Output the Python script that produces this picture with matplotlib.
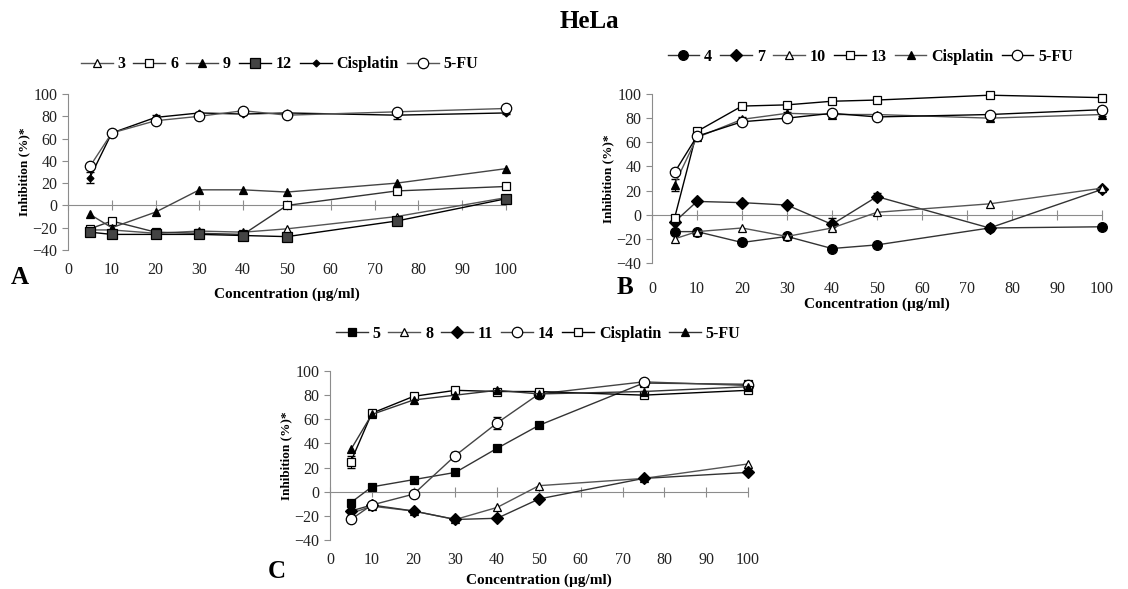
import matplotlib
matplotlib.use("Agg")
import matplotlib.pyplot as plt
import numpy as np

plt.rcParams['font.family'] = ['Liberation Serif', 'DejaVu Serif']

conc = [5, 10, 20, 30, 40, 50, 75, 100]
xticks = [0, 10, 20, 30, 40, 50, 60, 70, 80, 90, 100]
yticks = [-40, -20, 0, 20, 40, 60, 80, 100]

# Panel A
a_labels = ["3", "6", "9", "12", "Cisplatin", "5-FU"]
a_3 = [-22, -22, -25, -23, -24, -21, -10, 7]
a_6 = [-21, -14, -24, -25, -26, 0, 13, 17]
a_9 = [-8, -20, -6, 14, 14, 12, 20, 33]
a_12 = [-24, -26, -26, -26, -27, -28, -14, 6]
a_cis = [25, 65, 79, 83, 82, 83, 81, 83]
a_5fu = [35, 65, 76, 80, 85, 81, 84, 87]
a_cis_err = [5, 1, 2, 1, 1, 1, 3, 1]
a_12_err = [1, 1, 1, 1, 3, 1, 1, 1]

# Panel B
b_labels = ["4", "7", "10", "13", "Cisplatin", "5-FU"]
b_4 = [-14, -14, -23, -18, -28, -25, -11, -10]
b_7 = [-6, 11, 10, 8, -8, 15, -11, 21]
b_10 = [-20, -14, -11, -18, -11, 2, 9, 22]
b_13 = [-3, 69, 90, 91, 94, 95, 99, 97]
b_cis = [25, 64, 79, 84, 83, 83, 80, 83]
b_5fu = [35, 65, 77, 80, 84, 81, 83, 87]
b_cis_err = [5, 1, 2, 1, 1, 1, 1, 1]
b_7_err = [1, 1, 1, 1, 5, 3, 1, 1]

# Panel C
c_labels = ["5", "8", "11", "14", "Cisplatin", "5-FU"]
c_5 = [-9, 4, 10, 16, 36, 55, 90, 89]
c_8 = [-18, -12, -16, -23, -13, 5, 11, 23]
c_11 = [-16, -11, -16, -23, -22, -6, 11, 16]
c_14 = [-23, -11, -2, 30, 57, 81, 91, 88]
c_cis = [25, 65, 79, 84, 83, 83, 80, 84]
c_5fu = [35, 64, 76, 80, 84, 81, 83, 87]
c_cis_err = [5, 1, 1, 1, 1, 1, 1, 1]
c_14_err = [1, 1, 1, 3, 5, 1, 1, 1]

W, H = 1128, 589
fig = plt.figure(figsize=(W / 100, H / 100), dpi=100)

STY = {
    "otri": dict(marker="^", mfc="white", mec="black", ms=6),
    "osq": dict(marker="s", mfc="white", mec="black", ms=6),
    "ftri": dict(marker="^", mfc="black", mec="black", ms=6),
    "xsq": dict(marker="s", mfc="#444444", mec="black", ms=6.5),
    "sdia": dict(marker="D", mfc="black", mec="black", ms=3.5),
    "fdia": dict(marker="D", mfc="black", mec="black", ms=6),
    "ocirc": dict(marker="o", mfc="white", mec="black", ms=7.5),
    "fcirc": dict(marker="o", mfc="black", mec="black", ms=7),
    "fsq": dict(marker="s", mfc="black", mec="black", ms=5.5),
}


def panel(rect, series, letter, letter_xy, leg_anchor, pad, xlab_y):
    ax = fig.add_axes(rect)
    for vals, lab, sty, col, err in series:
        kw = dict(STY[sty])
        ax.plot(conc, vals, color=col, lw=1.0, label=lab, clip_on=False,
                mew=0.9, zorder=3, **kw)
        if err is not None:
            ax.errorbar(conc, vals, yerr=err, fmt="none", ecolor="black",
                        elinewidth=0.8, capsize=3, zorder=2, clip_on=False)
    ax.set_xlim(0, 100)
    ax.set_ylim(-40, 100)
    ax.set_xticks(xticks)
    ax.set_yticks(yticks)
    for s in ["top", "right"]:
        ax.spines[s].set_visible(False)
    ax.spines["left"].set_color("#8c8c8c")
    ax.spines["bottom"].set_position(("data", 0))
    ax.spines["bottom"].set_color("#8c8c8c")
    ax.tick_params(axis="x", direction="inout", length=7, color="#8c8c8c",
                   pad=pad, labelsize=11.5, labelcolor="#222222")
    ax.tick_params(axis="y", direction="out", length=4, color="#8c8c8c",
                   labelsize=11.5, labelcolor="#222222")
    ax.set_ylabel("Inhibition (%)*", fontweight="bold", fontsize=9.5, labelpad=2)
    ax.set_xlabel("Concentration (µg/ml)", fontweight="bold", fontsize=11)
    ax.xaxis.set_label_coords(0.5, xlab_y)
    ax.legend(loc="center", bbox_to_anchor=leg_anchor, ncol=6,
              frameon=False, handlelength=2.0, handletextpad=0.3,
              columnspacing=0.5, prop=dict(weight="bold", size=11.5))
    fig.text(letter_xy[0], letter_xy[1], letter, fontsize=18,
             fontweight="bold", ha="left", va="center")
    return ax


def fr(x0, y0, x1, y1):
    return [x0 / W, 1 - y1 / H, (x1 - x0) / W, (y1 - y0) / H]


axA = panel(fr(68, 94, 506, 250), [
    (a_3, a_labels[0], "otri", "#555555", None),
    (a_6, a_labels[1], "osq", "#333333", None),
    (a_9, a_labels[2], "ftri", "#444444", None),
    (a_12, a_labels[3], "xsq", "black", a_12_err),
    (a_cis, a_labels[4], "sdia", "black", a_cis_err),
    (a_5fu, a_labels[5], "ocirc", "#555555", None),
], "A", (11 / W, 1 - 277 / H), (0.483, 1.19), 37, -0.24)

axB = panel(fr(652, 94, 1102, 263), [
    (b_4, b_labels[0], "fcirc", "#333333", None),
    (b_7, b_labels[1], "fdia", "#333333", b_7_err),
    (b_10, b_labels[2], "otri", "#555555", None),
    (b_13, b_labels[3], "osq", "black", None),
    (b_cis, b_labels[4], "ftri", "#555555", b_cis_err),
    (b_5fu, b_labels[5], "ocirc", "black", None),
], "B", (617 / W, 1 - 287 / H), (0.485, 1.219), 44, -0.205)

axC = panel(fr(330, 371, 748, 540), [
    (c_5, c_labels[0], "fsq", "#333333", None),
    (c_8, c_labels[1], "otri", "#555555", None),
    (c_11, c_labels[2], "fdia", "#333333", None),
    (c_14, c_labels[3], "ocirc", "#444444", c_14_err),
    (c_cis, c_labels[4], "osq", "black", c_cis_err),
    (c_5fu, c_labels[5], "ftri", "#333333", None),
], "C", (268 / W, 1 - 571 / H), (0.498, 1.219), 40, -0.2)

fig.text(589 / W, 1 - 22 / H, "HeLa", fontsize=18, fontweight="bold",
         ha="center", va="center")

fig.savefig("out.png", dpi=100)
